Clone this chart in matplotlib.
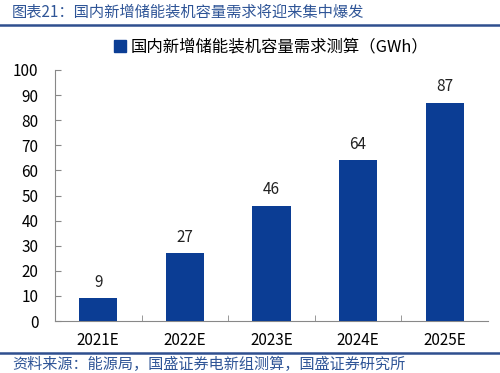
import matplotlib
matplotlib.use("Agg")
import matplotlib.pyplot as plt
from matplotlib.lines import Line2D
from matplotlib.patches import Patch

plt.rcParams['font.family'] = ['Noto Sans CJK SC', 'DejaVu Sans']

categories = ["2021E", "2022E", "2023E", "2024E", "2025E"]
values = [9, 27, 46, 64, 87]
yticks = [0, 10, 20, 30, 40, 50, 60, 70, 80, 90, 100]
series_name = "国内新增储能装机容量需求测算（GWh）"
title = "图表21：国内新增储能装机容量需求将迎来集中爆发"
source = "资料来源：能源局，国盛证券电新组测算，国盛证券研究所"

bar_color = "#0b3d94"
text_blue = "#2f5597"

W, H = 500, 373
fig = plt.figure(figsize=(W/100, H/100), dpi=100)

ax = fig.add_axes([55/W, 1-321/H, 433/W, 251/H])
x = list(range(len(categories)))
ax.bar(x, values, width=0.44, color=bar_color, zorder=3)
for xi, v in zip(x, values):
    ax.text(xi, v + 3, str(v), ha='center', va='bottom', fontsize=11, color='#222222')

ax.set_xlim(-0.5, len(categories) - 0.5)
ax.set_ylim(0, 100)
ax.set_yticks(yticks)
ax.set_yticklabels([str(t) for t in yticks], fontsize=11)
ax.set_xticks(x)
ax.set_xticklabels(categories, fontsize=11)
ax.tick_params(axis='x', length=0, pad=8)
ax.tick_params(axis='y', direction='in', length=4, pad=12, color='#888888')
# minor ticks between categories
ax.set_xticks([i + 0.5 for i in x[:-1]], minor=True)
ax.tick_params(axis='x', which='minor', direction='in', length=4, color='#888888')
for s in ['top', 'right']:
    ax.spines[s].set_visible(False)
ax.spines['left'].set_color('#888888')
ax.spines['bottom'].set_color('#888888')

# legend
ax.legend(handles=[Patch(color=bar_color, label=series_name)],
          loc='lower center', bbox_to_anchor=(0.5, 1.03), frameon=False,
          fontsize=11.8, handlelength=0.7, handleheight=0.7, handletextpad=0.3,
          borderaxespad=0)

# title and source
fig.text(12/W, 1-12/H, title, fontsize=11, color=text_blue, va='center', ha='left')
fig.text(12/W, 1-364/H, source, fontsize=10.9, color=text_blue, va='center', ha='left')
fig.add_artist(Line2D([0, 1], [1-25/H, 1-25/H], color='#2f4f8f', lw=1.8))
fig.add_artist(Line2D([0, 1], [1-353/H, 1-353/H], color='#2f4f8f', lw=1.8))

fig.savefig("out.png", dpi=100)
